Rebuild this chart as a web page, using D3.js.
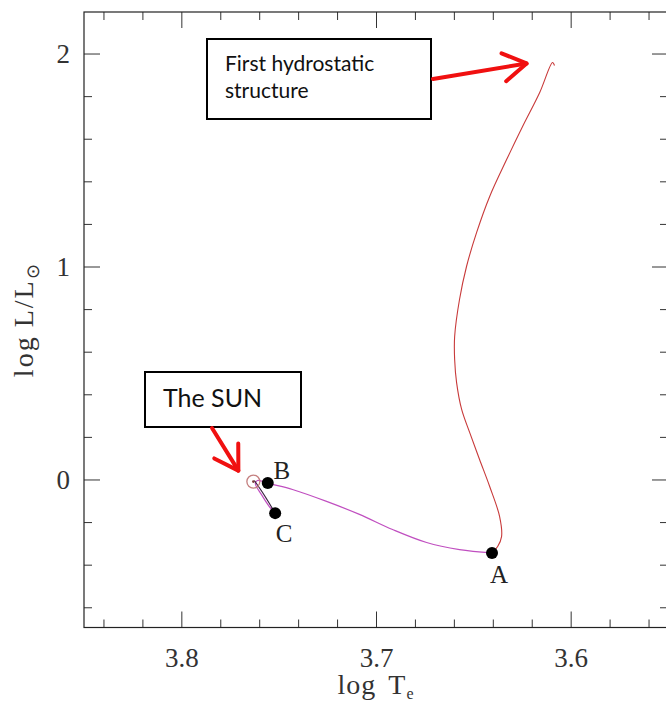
<!DOCTYPE html>
<html>
<head>
<meta charset="utf-8">
<script src="https://cdn.jsdelivr.net/npm/d3@7"></script>
<style>
  body { margin: 0; background: #fff; }
  .axis text { font-family: "Liberation Serif", serif; font-size: 27px; fill: #333; }
  .axis line { stroke: #333; stroke-width: 1; }
</style>
</head>
<body>
<div class="canvas"></div>
<script>
// pre-main-sequence track of a 1 Msun star
// red part: from the first hydrostatic structure down the Hayashi line to A
const hayashiTe = [3.6083, 3.6093, 3.6159, 3.6247, 3.6329, 3.6416, 3.6483, 3.6535, 3.6571, 3.6596,
  3.6596, 3.6586, 3.6560, 3.6519, 3.6468, 3.6416, 3.6365, 3.6355, 3.6375, 3.6404];
const hayashiL = [1.944, 1.958, 1.817, 1.657, 1.502, 1.329, 1.160, 1.000, 0.845, 0.671,
  0.563, 0.455, 0.329, 0.221, 0.094, -0.033, -0.174, -0.268, -0.315, -0.345];

// purple part: A -> B -> past the sun -> C
const henyeyTe = [3.6404, 3.6571, 3.6740, 3.6915, 3.7085, 3.7254, 3.7429, 3.7532, 3.7556,
  3.7609, 3.7620, 3.7589, 3.7548, 3.7518];
const henyeyL = [-0.345, -0.329, -0.296, -0.235, -0.164, -0.103, -0.047, -0.023, -0.017,
  -0.005, -0.019, -0.070, -0.127, -0.158];

// dark segment from the sun to C
const innerTe = [3.7625, 3.7573, 3.7518];
const innerL = [-0.005, -0.075, -0.158];

// labelled points
const pointNames = ['A', 'B', 'C'];
const pointTe = [3.6404, 3.7556, 3.7518];
const pointL = [-0.345, -0.017, -0.158];
const labelDx = [7, 14, 9];
const labelDy = [30, -4, 29];

// the sun
const sunTe = 3.763;
const sunL = -0.01;

// axis ticks
const xTicks = [3.8, 3.7, 3.6];
const yTicks = [0, 1, 2];

const width = 666;
const height = 705;

const svg = d3.select('.canvas')
  .append('svg')
    .attr('width', width)
    .attr('height', height);

// scales (plot frame runs past the right edge of the picture)
const x = d3.scaleLinear().domain([3.85, 3.55]).range([84, 668]);
const y = d3.scaleLinear().domain([-0.695, 2.195]).range([627.5, 12]);

const [x0, x1] = x.range();
const [yb, yt] = y.range();

const xMinor = x.ticks(15).filter(v => !xTicks.some(t => Math.abs(t - v) < 1e-6));
const yMinor = y.ticks(15).filter(v => !yTicks.some(t => Math.abs(t - v) < 1e-6));

// axes, ticks pointing into the plot
const addAxis = (axis, tx, ty) => {
  const g = svg.append('g')
    .attr('class', 'axis')
    .attr('transform', `translate(${tx}, ${ty})`)
    .call(axis);
  g.select('.domain').remove();
  return g;
};

addAxis(d3.axisBottom(x).tickValues(xTicks).tickSizeInner(-16).tickSizeOuter(0).tickPadding(20)
  .tickFormat(d3.format('.1f')), 0, yb);
addAxis(d3.axisBottom(x).tickValues(xMinor).tickSizeInner(-8).tickSizeOuter(0).tickFormat(''), 0, yb);
addAxis(d3.axisTop(x).tickValues(xTicks).tickSizeInner(-16).tickSizeOuter(0).tickFormat(''), 0, yt);
addAxis(d3.axisTop(x).tickValues(xMinor).tickSizeInner(-8).tickSizeOuter(0).tickFormat(''), 0, yt);

addAxis(d3.axisLeft(y).tickValues(yTicks).tickSizeInner(-16).tickSizeOuter(0).tickPadding(14)
  .tickFormat(d3.format('d')), x0, 0);
addAxis(d3.axisLeft(y).tickValues(yMinor).tickSizeInner(-8).tickSizeOuter(0).tickFormat(''), x0, 0);
addAxis(d3.axisRight(y).tickValues(yTicks).tickSizeInner(-16).tickSizeOuter(0).tickFormat(''), x1, 0);
addAxis(d3.axisRight(y).tickValues(yMinor).tickSizeInner(-8).tickSizeOuter(0).tickFormat(''), x1, 0);

// frame
svg.append('rect')
  .attr('x', x0)
  .attr('y', yt)
  .attr('width', x1 - x0)
  .attr('height', yb - yt)
  .attr('fill', 'none')
  .attr('stroke', '#222')
  .attr('stroke-width', 1.2);

// axis titles
const xTitle = svg.append('text')
  .attr('x', (x0 + x1) / 2)
  .attr('y', 694)
  .attr('text-anchor', 'middle')
  .attr('font-family', '"Liberation Serif", serif')
  .attr('font-size', 28)
  .attr('letter-spacing', 1)
  .attr('fill', '#333');
xTitle.append('tspan').text('log');
xTitle.append('tspan').attr('dx', 12).text('T');
xTitle.append('tspan').attr('dy', 5).attr('font-size', 16).text('e');

const yTitle = svg.append('text')
  .attr('transform', `translate(33, ${(yt + yb) / 2}) rotate(-90)`)
  .attr('text-anchor', 'middle')
  .attr('font-family', '"Liberation Serif", serif')
  .attr('font-size', 28)
  .attr('letter-spacing', 2)
  .attr('fill', '#333');
yTitle.append('tspan').text('log');
yTitle.append('tspan').attr('dx', 8).text('L/L');
yTitle.append('tspan').attr('dy', 6).attr('font-size', 18).text('\u2299');

// tracks
const line = d3.line()
  .x(d => x(d[0]))
  .y(d => y(d[1]))
  .curve(d3.curveCatmullRom.alpha(0.5));

const graph = svg.append('g');

graph.append('path')
  .datum(hayashiTe.map((t, i) => [t, hayashiL[i]]))
  .attr('d', line)
  .attr('fill', 'none')
  .attr('stroke', '#c83a3a')
  .attr('stroke-width', 1.1);

graph.append('path')
  .datum(henyeyTe.map((t, i) => [t, henyeyL[i]]))
  .attr('d', line)
  .attr('fill', 'none')
  .attr('stroke', '#c04fc0')
  .attr('stroke-width', 1.2);

graph.append('path')
  .datum(innerTe.map((t, i) => [t, innerL[i]]))
  .attr('d', line)
  .attr('fill', 'none')
  .attr('stroke', '#3a2040')
  .attr('stroke-width', 1.2);

// sun symbol
graph.append('circle')
  .attr('cx', x(sunTe))
  .attr('cy', y(sunL))
  .attr('r', 6.5)
  .attr('fill', 'none')
  .attr('stroke', '#c47f7f')
  .attr('stroke-width', 1.3);
graph.append('circle')
  .attr('cx', x(sunTe))
  .attr('cy', y(sunL))
  .attr('r', 1.3)
  .attr('fill', '#7a3a3a');

// labelled points
const points = pointNames.map((n, i) => ({name: n, te: pointTe[i], l: pointL[i], dx: labelDx[i], dy: labelDy[i]}));

graph.selectAll('circle.pt')
  .data(points)
  .enter()
  .append('circle')
    .attr('class', 'pt')
    .attr('cx', d => x(d.te))
    .attr('cy', d => y(d.l))
    .attr('r', 6)
    .attr('fill', '#000');

graph.selectAll('text.pt')
  .data(points)
  .enter()
  .append('text')
    .attr('class', 'pt')
    .attr('x', d => x(d.te) + d.dx)
    .attr('y', d => y(d.l) + d.dy)
    .attr('text-anchor', 'middle')
    .attr('font-family', '"Liberation Serif", serif')
    .attr('font-size', 25)
    .attr('fill', '#222')
    .text(d => d.name);

// annotation boxes and arrows
const note = (bx, by, bw, bh, lines, size, tx, ty, lh) => {
  svg.append('rect')
    .attr('x', bx)
    .attr('y', by)
    .attr('width', bw)
    .attr('height', bh)
    .attr('fill', '#fff')
    .attr('stroke', '#000')
    .attr('stroke-width', 2);
  lines.forEach((s, i) => {
    svg.append('text')
      .attr('x', tx)
      .attr('y', ty + i * lh)
      .attr('font-family', 'Lato, "Open Sans", sans-serif')
      .attr('font-size', size)
      .attr('fill', '#111')
      .text(s);
  });
};

const arrow = (sx, sy, ex, ey) => {
  const ang = Math.atan2(ey - sy, ex - sx);
  const len = 27;
  const spread = 0.55;
  const g = svg.append('g')
    .attr('stroke', '#f01010')
    .attr('stroke-width', 4)
    .attr('fill', 'none')
    .attr('stroke-linecap', 'round')
    .attr('stroke-linejoin', 'round');
  g.append('line')
    .attr('x1', sx).attr('y1', sy)
    .attr('x2', ex).attr('y2', ey);
  g.append('path')
    .attr('d', `M${ex - len * Math.cos(ang - spread)},${ey - len * Math.sin(ang - spread)}
      L${ex},${ey}
      L${ex - len * Math.cos(ang + spread)},${ey - len * Math.sin(ang + spread)}`);
};

note(207, 39, 224, 80, ['First hydrostatic', 'structure'], 21, 225, 71, 27);
note(145, 372, 156, 55, ['The SUN'], 25, 163, 407, 0);

// arrows point just beside the track start and the sun
const trackTop = [x(hayashiTe[1]), y(hayashiL[1])];
arrow(433, 79, trackTop[0] - 26, trackTop[1] + 1);
arrow(212, 428, x(sunTe) - 15, y(sunL) - 11);
</script>
</body>
</html>
